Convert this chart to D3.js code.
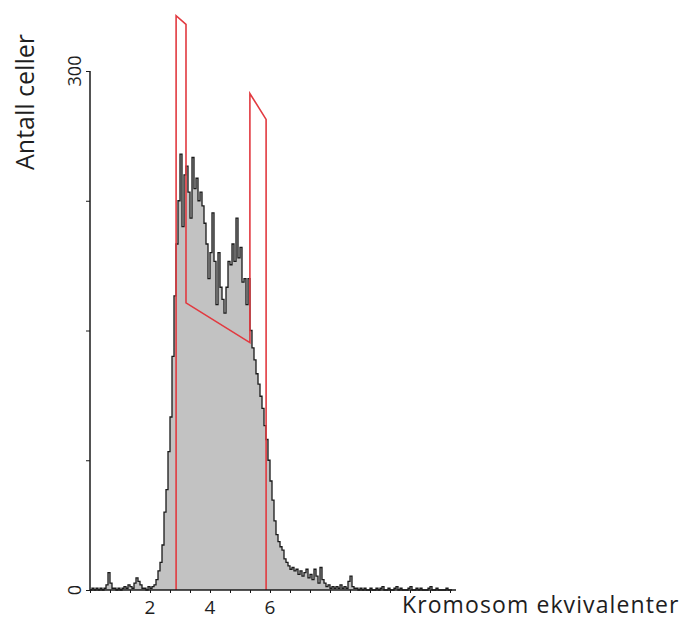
<!DOCTYPE html>
<html>
<head>
<meta charset="utf-8">
<script src="https://cdn.jsdelivr.net/npm/d3@7"></script>
<style>
  body { margin: 0; background: #fff; }
  text { font-family: "Open Sans", "DejaVu Sans", sans-serif; fill: #1e1e1e; }
</style>
</head>
<body>
<div id="chart"></div>
<script>
// histogram of DNA content, counts per channel (channel width 1/15 chromosome equivalent)
const binWidth = 1 / 15;
const counts = [
  0, 1, 0, 1, 0, 1, 0, 1, 3, 10, 4, 1, 1, 0, 1, 0, 1, 2, 1, 3,
  2, 1, 4, 7, 5, 3, 1, 1, 0, 2, 1, 2, 3, 6, 11, 16, 26, 45, 58, 80,
  100, 135, 170, 200, 225, 252, 210, 240, 245, 230, 215, 250, 232, 238, 225, 230, 222, 212, 200, 180,
  195, 218, 190, 165, 195, 175, 168, 160, 175, 190, 188, 200, 190, 215, 192, 198, 178, 180, 165, 180,
  150, 140, 133, 125, 119, 112, 105, 95, 87, 75, 63, 52, 40, 32, 28, 25, 23, 18, 16, 14,
  12, 13, 11, 12, 9, 11, 8, 10, 12, 7, 9, 6, 12, 8, 4, 13, 6, 4, 2, 3,
  1, 2, 1, 2, 1, 3, 1, 2, 1, 5, 8, 2, 1, 1, 0, 1, 0, 1, 0, 0,
  1, 0, 0, 1, 0, 1, 2, 0, 0, 1, 0, 0, 1, 2, 0, 1, 0, 0, 0, 1,
  2, 0, 0, 1, 0, 1, 0, 0, 0, 1, 2, 0, 0, 1, 0, 0, 0, 0, 1, 0, 0
];

// red model gate (chromosome equivalents, cell count)
const gateX = [2.87, 2.87, 3.2, 3.2, 5.33, 5.33, 5.87, 5.87];
const gateY = [0, 332, 327, 166, 143, 287, 272, 0];

const xLabels = [2, 4, 6];
const yTicks = [0, 75, 150, 225, 300];
const yLabels = [0, 300];

const xTitle = "Kromosom ekvivalenter";
const yTitle = "Antall celler";

const width = 681, height = 619;

const svg = d3.select("#chart").append("svg")
  .attr("width", width)
  .attr("height", height);

const x = d3.scaleLinear().domain([0, 12.2]).range([90, 456]);
const y = d3.scaleLinear().domain([0, 300]).range([590, 71]);

// build step points from the channels
let hist = counts.map((c, i) => ({ x: i * binWidth, c: c }));
hist.push({ x: counts.length * binWidth, c: counts[counts.length - 1] });

const area = d3.area()
  .x(d => x(d.x))
  .y0(y(0))
  .y1(d => y(d.c))
  .curve(d3.curveStepAfter);

const line = d3.line()
  .x(d => x(d.x))
  .y(d => y(d.c))
  .curve(d3.curveStepAfter);

svg.append("path")
  .attr("d", area(hist))
  .attr("fill", "#c2c2c2");

svg.append("path")
  .attr("d", line(hist))
  .attr("fill", "none")
  .attr("stroke", "#1a1a1a")
  .attr("stroke-width", 1.3);

// gate outline
const gate = gateX.map((v, i) => [x(v), y(gateY[i])]);
svg.append("path")
  .attr("d", d3.line()(gate))
  .attr("fill", "none")
  .attr("stroke", "#e23a40")
  .attr("stroke-width", 1.6);

// x axis
const xAxis = d3.axisBottom(x)
  .tickValues(d3.range(0, 12.01, 2 / 3))
  .tickSize(3)
  .tickFormat("");
const gx = svg.append("g")
  .attr("transform", "translate(0," + y(0) + ")")
  .call(xAxis);
gx.select(".domain").attr("d", "M" + x(0) + ",0H" + x(12.2)).attr("stroke", "#1a1a1a").attr("stroke-width", 1.5);
gx.selectAll(".tick line").attr("stroke", "#1a1a1a");

svg.append("g").selectAll("text")
  .data(xLabels)
  .enter().append("text")
  .attr("x", d => x(d))
  .attr("y", 614)
  .attr("text-anchor", "middle")
  .style("font-size", "19px")
  .text(d => d);

// y axis
const yAxis = d3.axisLeft(y)
  .tickValues(yTicks)
  .tickSize(4)
  .tickFormat("");
const gy = svg.append("g")
  .attr("transform", "translate(" + x(0) + ",0)")
  .call(yAxis);
gy.select(".domain").attr("d", "M0," + y(0) + "V" + y(300)).attr("stroke", "#1a1a1a").attr("stroke-width", 1.5);
gy.selectAll(".tick line").attr("stroke", "#1a1a1a");

svg.append("g").selectAll("text")
  .data(yLabels)
  .enter().append("text")
  .attr("transform", d => "translate(81," + y(d) + ") rotate(-90)")
  .attr("text-anchor", "middle")
  .style("font-size", "18px")
  .text(d => d);

// titles
svg.append("text")
  .attr("x", 402)
  .attr("y", 613)
  .style("font-size", "23px")
  .style("letter-spacing", "1.1px")
  .text(xTitle);

svg.append("text")
  .attr("transform", "translate(34,102) rotate(-90)")
  .attr("text-anchor", "middle")
  .style("font-size", "25px")
  .text(yTitle);
</script>
</body>
</html>
